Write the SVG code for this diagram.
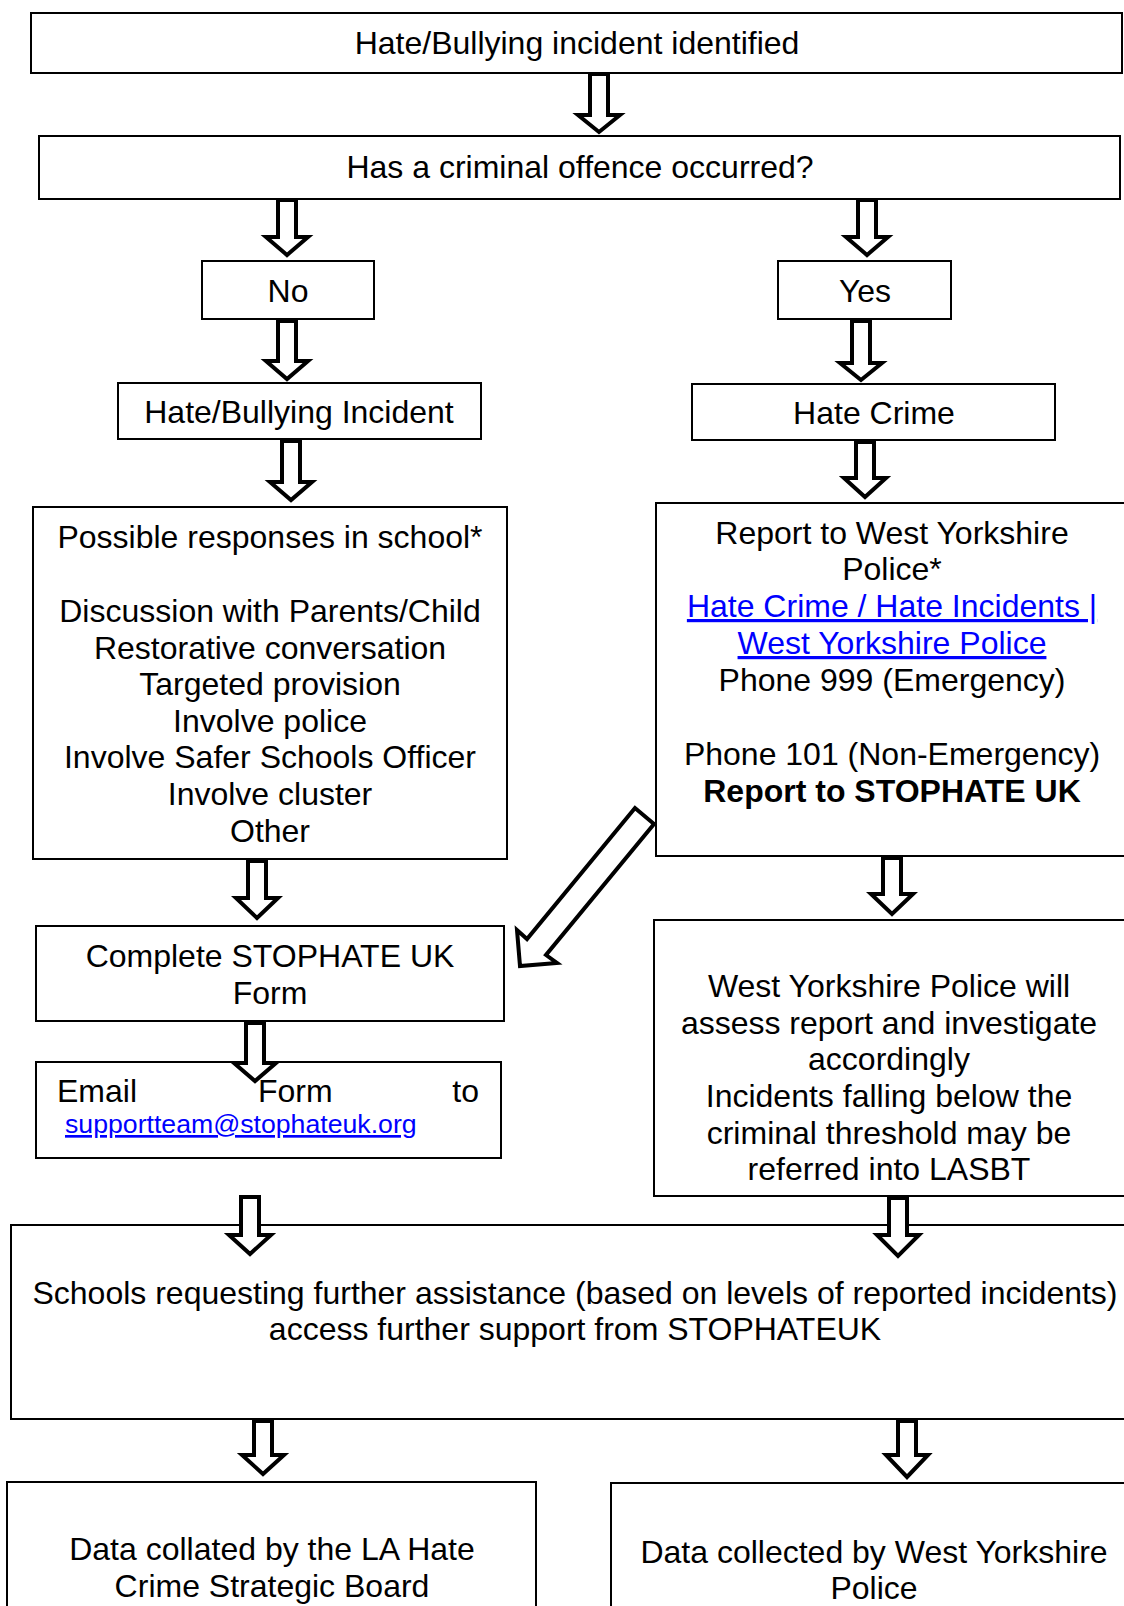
<svg xmlns="http://www.w3.org/2000/svg" width="1124" height="1606" viewBox="0 0 1124 1606">
<style>
.box{fill:#fff;stroke:#000;stroke-width:2}
.t{font-family:"Liberation Sans",Arial,sans-serif;font-size:32px;fill:#000;text-anchor:middle}
.b{font-weight:bold}
.lnk{fill:#0000ff;text-decoration:underline}
.arr{fill:#fff;stroke:#000;stroke-width:4;stroke-linejoin:miter}
</style>
<rect width="1124" height="1606" fill="#fff"/>
<g id="n-identified"><rect class="box" x="31" y="13" width="1091" height="60"/><text class="t" x="577" y="54">Hate/Bullying incident identified</text></g>
<g id="n-offence"><rect class="box" x="39" y="136" width="1081" height="63"/><text class="t" x="580" y="178">Has a criminal offence occurred?</text></g>
<g id="n-no"><rect class="box" x="202" y="261" width="172" height="58"/><text class="t" x="288" y="302">No</text></g>
<g id="n-yes"><rect class="box" x="778" y="261" width="173" height="58"/><text class="t" x="865" y="302">Yes</text></g>
<g id="n-incident"><rect class="box" x="118" y="383" width="363" height="56"/><text class="t" x="299" y="423">Hate/Bullying Incident</text></g>
<g id="n-crime"><rect class="box" x="692" y="384" width="363" height="56"/><text class="t" x="874" y="424">Hate Crime</text></g>
<g id="n-responses"><rect class="box" x="33" y="507" width="474" height="352"/>
<text class="t" x="270" y="548">Possible responses in school*</text>
<text class="t" x="270" y="622">Discussion with Parents/Child</text>
<text class="t" x="270" y="659">Restorative conversation</text>
<text class="t" x="270" y="695">Targeted provision</text>
<text class="t" x="270" y="732">Involve police</text>
<text class="t" x="270" y="768">Involve Safer Schools Officer</text>
<text class="t" x="270" y="805">Involve cluster</text>
<text class="t" x="270" y="842">Other</text></g>
<g id="n-report"><rect class="box" x="656" y="503" width="480" height="353"/>
<text class="t" x="892" y="544">Report to West Yorkshire</text>
<text class="t" x="892" y="580">Police*</text>
<text class="t lnk" x="892" y="617">Hate Crime / Hate Incidents |</text>
<text class="t lnk" x="892" y="654">West Yorkshire Police</text>
<text class="t" x="892" y="691">Phone 999 (Emergency)</text>
<text class="t" x="892" y="765">Phone 101 (Non-Emergency)</text>
<text class="t b" x="892" y="802">Report to STOPHATE UK</text></g>
<g id="n-complete"><rect class="box" x="36" y="926" width="468" height="95"/>
<text class="t" x="270" y="967">Complete STOPHATE UK</text>
<text class="t" x="270" y="1004">Form</text></g>
<g id="n-email"><rect class="box" x="36" y="1062" width="465" height="96"/>
<text class="t" x="57" y="1102" style="text-anchor:start">Email</text>
<text class="t" x="258" y="1102" style="text-anchor:start">Form</text>
<text class="t" x="479" y="1102" style="text-anchor:end">to</text>
<text class="t lnk" x="65" y="1133" style="text-anchor:start;font-size:26.67px">supportteam@stophateuk.org</text></g>
<g id="n-wyp"><rect class="box" x="654" y="920" width="482" height="276"/>
<text class="t" x="889" y="997">West Yorkshire Police will</text>
<text class="t" x="889" y="1034">assess report and investigate</text>
<text class="t" x="889" y="1070">accordingly</text>
<text class="t" x="889" y="1107">Incidents falling below the</text>
<text class="t" x="889" y="1144">criminal threshold may be</text>
<text class="t" x="889" y="1180">referred into LASBT</text></g>
<g id="n-schools"><rect class="box" x="11" y="1225" width="1128" height="194"/>
<text class="t" x="575" y="1304">Schools requesting further assistance (based on levels of reported incidents)</text>
<text class="t" x="575" y="1340">access further support from STOPHATEUK</text></g>
<g id="n-la"><rect class="box" x="7" y="1482" width="529" height="140"/>
<text class="t" x="272" y="1560">Data collated by the LA Hate</text>
<text class="t" x="272" y="1597">Crime Strategic Board</text></g>
<g id="n-wypdata"><rect class="box" x="611" y="1483" width="526" height="140"/>
<text class="t" x="874" y="1563">Data collected by West Yorkshire</text>
<text class="t" x="874" y="1599">Police</text></g>
<g id="connectors">
<polygon class="arr" points="590,74 590,115 578,115 599,132 620,115 608,115 608,74"/>
<polygon class="arr" points="278,200 278,237 266,237 287,255 308,237 296,237 296,200"/>
<polygon class="arr" points="858,200 858,237 846,237 867,255 888,237 876,237 876,200"/>
<polygon class="arr" points="278,321 278,361 266,361 287,379 308,361 296,361 296,321"/>
<polygon class="arr" points="852,321 852,363 840,363 861,380 882,363 870,363 870,321"/>
<polygon class="arr" points="282,441 282,482 270,482 291,500 312,482 300,482 300,441"/>
<polygon class="arr" points="856,442 856,478 844,478 865,497 886,478 874,478 874,442"/>
<polygon class="arr" points="248,861 248,898 236,898 257,918 278,898 266,898 266,861"/>
<polygon class="arr" points="883,858 883,894 871,894 892,914 913,894 901,894 901,858"/>
<polygon class="arr" points="246,1023 246,1063 234,1063 255,1081 276,1063 264,1063 264,1023"/>
<polygon class="arr" points="241,1197 241,1235 229,1235 250,1254 271,1235 259,1235 259,1197"/>
<polygon class="arr" points="889,1198 889,1235 877,1235 898,1256 919,1235 907,1235 907,1198"/>
<polygon class="arr" points="254,1421 254,1455 242,1455 263,1474 284,1455 272,1455 272,1421"/>
<polygon class="arr" points="898,1421 898,1455 886,1455 907,1477 928,1455 916,1455 916,1421"/>
<polygon class="arr" points="635,808 527,939 517,930 520,966 557,963 546,955 654,824"/>
</g>
</svg>
